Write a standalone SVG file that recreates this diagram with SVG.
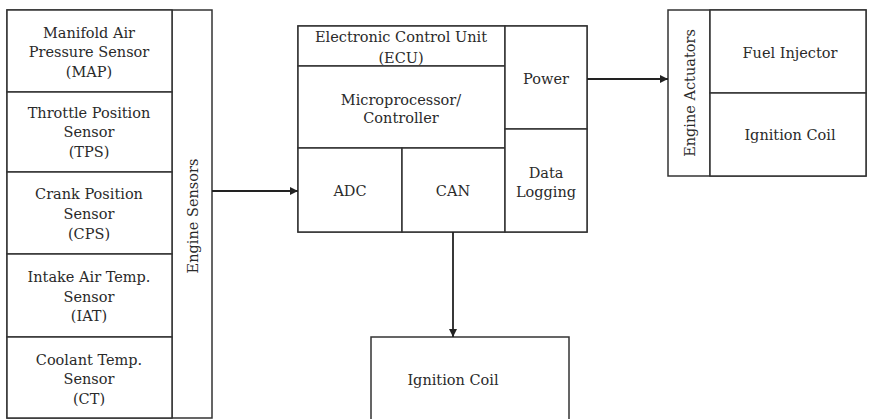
<svg xmlns="http://www.w3.org/2000/svg" width="869" height="419" viewBox="0 0 869 419">
<style>
.box{fill:#fff;stroke:#333;stroke-width:1.5}
.ln{fill:none;stroke:#333;stroke-width:1.5}
.t{font-family:"DejaVu Serif","Liberation Serif",serif;font-size:14.5px;fill:#2a2a2a;text-anchor:middle;dominant-baseline:central}
.c{fill:none;stroke:#222;stroke-width:1.8}
</style>
<defs>
<marker id="ah" viewBox="0 0 10 10" refX="10" refY="5" markerWidth="8" markerHeight="8" markerUnits="userSpaceOnUse" orient="auto">
<path d="M0,0 L10,5 L0,10 z" fill="#222"/>
</marker>
</defs>
<rect width="869" height="419" fill="#fff"/>
<g id="sensors">
<rect class="box" x="7" y="10" width="205" height="408"/>
<line class="ln" x1="172" y1="10" x2="172" y2="418"/>
<text class="t" transform="translate(193,216) rotate(-90)">Engine Sensors</text>
</g>
<g id="map">
<rect class="box" x="7" y="10" width="165" height="82"/>
<text class="t" x="89" y="33">Manifold Air</text>
<text class="t" x="89" y="52">Pressure Sensor</text>
<text class="t" x="89" y="72">(MAP)</text>
</g>
<g id="tps">
<rect class="box" x="7" y="92" width="165" height="80"/>
<text class="t" x="89" y="113">Throttle Position</text>
<text class="t" x="89" y="132">Sensor</text>
<text class="t" x="89" y="152">(TPS)</text>
</g>
<g id="cps">
<rect class="box" x="7" y="172" width="165" height="82"/>
<text class="t" x="89" y="194">Crank Position</text>
<text class="t" x="89" y="214">Sensor</text>
<text class="t" x="89" y="234">(CPS)</text>
</g>
<g id="iat">
<rect class="box" x="7" y="254" width="165" height="83"/>
<text class="t" x="89" y="277">Intake Air Temp.</text>
<text class="t" x="89" y="297">Sensor</text>
<text class="t" x="89" y="316">(IAT)</text>
</g>
<g id="ct">
<rect class="box" x="7" y="337" width="165" height="81"/>
<text class="t" x="89" y="360">Coolant Temp.</text>
<text class="t" x="89" y="379">Sensor</text>
<text class="t" x="89" y="399">(CT)</text>
</g>
<g id="ecu">
<rect class="box" x="298" y="26" width="289" height="206"/>
<rect class="box" x="298" y="26" width="207" height="40"/>
<text class="t" x="401" y="37">Electronic Control Unit</text>
<text class="t" x="401" y="58">(ECU)</text>
</g>
<g id="micro">
<rect class="box" x="298" y="66" width="207" height="82"/>
<text class="t" x="401" y="100">Microprocessor/</text>
<text class="t" x="401" y="118">Controller</text>
</g>
<g id="adc">
<rect class="box" x="298" y="148" width="104" height="84"/>
<text class="t" x="350" y="191">ADC</text>
</g>
<g id="can">
<rect class="box" x="402" y="148" width="103" height="84"/>
<text class="t" x="453" y="191">CAN</text>
</g>
<g id="power">
<rect class="box" x="505" y="26" width="82" height="103"/>
<text class="t" x="546" y="79">Power</text>
</g>
<g id="datalog">
<rect class="box" x="505" y="129" width="82" height="103"/>
<text class="t" x="546" y="173">Data</text>
<text class="t" x="546" y="192">Logging</text>
</g>
<g id="actuators">
<rect class="box" x="668" y="10" width="198" height="166"/>
<line class="ln" x1="710" y1="10" x2="710" y2="176"/>
<text class="t" transform="translate(690,93) rotate(-90)">Engine Actuators</text>
</g>
<g id="fuel">
<rect class="box" x="710" y="10" width="156" height="83"/>
<text class="t" x="790" y="53">Fuel Injector</text>
</g>
<g id="ign1">
<rect class="box" x="710" y="93" width="156" height="83"/>
<text class="t" x="790" y="135">Ignition Coil</text>
</g>
<g id="ign2">
<rect class="box" x="371" y="337" width="198" height="85"/>
<text class="t" x="453" y="380">Ignition Coil</text>
</g>
<g id="connectors">
<line class="c" x1="212" y1="191" x2="298" y2="191" marker-end="url(#ah)"/>
<line class="c" x1="587" y1="79" x2="668" y2="79" marker-end="url(#ah)"/>
<line class="c" x1="453" y1="232" x2="453" y2="337" marker-end="url(#ah)"/>
</g>
</svg>
